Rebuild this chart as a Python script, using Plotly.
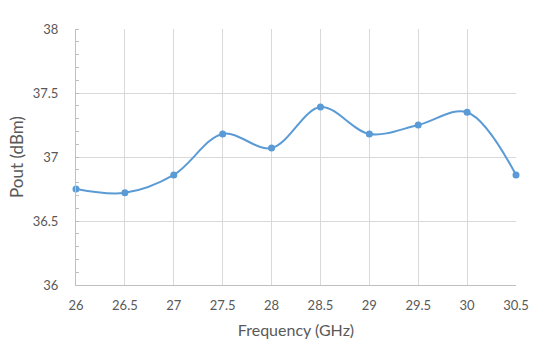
import plotly.graph_objects as go

freq = [26, 26.5, 27, 27.5, 28, 28.5, 29, 29.5, 30, 30.5]
pout = [36.75, 36.72, 36.86, 37.18, 37.07, 37.39, 37.18, 37.25, 37.35, 36.86]
x_ticks = [26, 26.5, 27, 27.5, 28, 28.5, 29, 29.5, 30, 30.5]
y_ticks = [36, 36.5, 37, 37.5, 38]

fig = go.Figure(go.Scatter(
    x=freq, y=pout, mode="lines+markers", cliponaxis=False,
    line=dict(color="#5B9BD5", width=2, shape="spline", smoothing=1),
    marker=dict(color="#5B9BD5", size=7),
))

font = "Lato, 'Open Sans', sans-serif"
fig.update_layout(
    width=554, height=352,
    margin=dict(l=76, r=38, t=29, b=67),
    paper_bgcolor="white", plot_bgcolor="white",
    showlegend=False,
    font=dict(family=font, color="#595959", size=13),
    xaxis=dict(
        range=[26, 30.5], tickvals=x_ticks, ticktext=[str(v) for v in x_ticks],
        showgrid=True, gridcolor="#D9D9D9", gridwidth=1,
        showline=True, linecolor="#BFBFBF", linewidth=1,
        zeroline=False, ticks="", ticklen=0, ticklabelstandoff=8,
        title=dict(text="Frequency (GHz)", font=dict(size=16, color="#595959"), standoff=13),
    ),
    yaxis=dict(
        range=[36, 38], tickvals=y_ticks, ticktext=["36", "36.5", "37", "37.5", "38"],
        showgrid=True, gridcolor="#D9D9D9", gridwidth=1,
        showline=True, linecolor="#BFBFBF", linewidth=1,
        zeroline=False, ticks="", ticklabelstandoff=14,
        minor=dict(dtick=0.1, ticks="inside", ticklen=3, tickcolor="#BFBFBF", showgrid=False),
        title=dict(text="Pout (dBm)", font=dict(size=17, color="#595959"), standoff=4),
    ),
)

fig.write_html("out.html")
